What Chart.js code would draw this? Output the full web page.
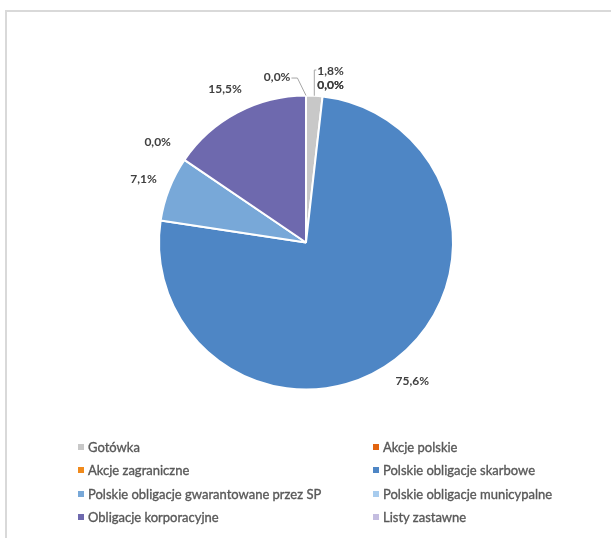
<!DOCTYPE html>
<html><head><meta charset="utf-8">
<script src="https://cdn.jsdelivr.net/npm/chart.js@4/dist/chart.umd.min.js"></script>
<style>
html,body{margin:0;padding:0;background:#fff;width:611px;height:538px;overflow:hidden;}
#frame{position:absolute;left:5px;top:10px;width:700px;height:600px;border-left:2px solid #d9d9d9;border-top:2px solid #d9d9d9;}
#wrap{position:absolute;left:0;top:0;width:611px;height:538px;}
#legend{position:absolute;left:78px;top:435px;display:grid;grid-template-columns:295px 230px;grid-auto-rows:23.5px;font-family:Lato,"Open Sans",sans-serif;font-size:13px;color:#595959;-webkit-text-stroke:0.35px #595959;}
.item{display:flex;align-items:center;white-space:nowrap;}
.sw{width:6px;height:6px;margin-right:4px;flex:none;}
</style></head>
<body>
<div id="frame"></div>
<div id="wrap"><canvas id="c" width="611" height="538"></canvas></div>
<div id="legend"></div>
<script>
const categories = ["Gotówka","Akcje polskie","Akcje zagraniczne","Polskie obligacje skarbowe","Polskie obligacje gwarantowane przez SP","Polskie obligacje municypalne","Obligacje korporacyjne","Listy zastawne"];
const shares = [1.8, 0.0, 0.0, 75.6, 7.1, 0.0, 15.5, 0.0];
const colors = ["#c8c8c8","#e2640f","#f08a1c","#4e86c5","#78a8d8","#a8ccee","#6e69ae","#c4bde0"];

function fmt(v){ return v.toFixed(1).replace('.', ',') + '%'; }

const outLabels = {
  id: 'outLabels',
  afterDatasetsDraw(chart){
    const ctx = chart.ctx;
    const meta = chart.getDatasetMeta(0);
    const ds = chart.data.datasets[0];
    ctx.save();
    ctx.font = 'bold 12px Lato, "Open Sans", sans-serif';
    ctx.textAlign = 'center';
    ctx.textBaseline = 'middle';
    const h = 12;
    const placed = [];
    meta.data.forEach((arc, i) => {
      const p = arc.getProps(['x','y','startAngle','endAngle','outerRadius'], true);
      const mid = (p.startAngle + p.endAngle) / 2;
      const ux = Math.cos(mid), uy = Math.sin(mid);
      const right = (mid + Math.PI / 2) < Math.PI - 1e-9;
      const v = ds.data[i];
      const text = fmt(v);
      const w = ctx.measureText(text).width;
      const gap = v < 2.5 ? 18 : 13;
      const ext = Math.abs(ux) * w / 2 + Math.abs(uy) * h / 2;
      const d = p.outerRadius + gap + ext;
      const nx = p.x + ux * d, ny = p.y + uy * d;
      const item = {text, w, nx, ny, cx: nx, cy: ny, right, leader: false, moved: false,
                    ax: p.x + ux * p.outerRadius, ay: p.y + uy * p.outerRadius};
      const dup = placed.find(q => q.text === text && q.moved && Math.abs(q.nx - nx) < 1 && Math.abs(q.ny - ny) < 1);
      if (dup) {
        item.cx = dup.cx; item.cy = dup.cy; item.moved = true; item.leader = dup.leader; item.dupOf = dup;
      } else {
        let guard = 0, hit;
        while ((hit = placed.find(q => Math.abs(q.cx - item.cx) < (q.w + w) / 2 + 2 && Math.abs(q.cy - item.cy) < h + 1)) && guard++ < 10) {
          item.moved = true; item.leader = true; hit.leader = true;
          if (right) { item.cy = hit.cy + h + 2; item.cx = Math.max(item.cx, hit.cx); }
          else { item.cx = hit.cx - (hit.w + w) / 2 - 12; item.cy = Math.max(item.cy, hit.cy + 6); }
        }
      }
      placed.push(item);
    });
    // right-side leader group: align left edges just past the leftmost anchor
    const grp = placed.filter(it => it.right && it.leader && !it.dupOf);
    if (grp.length) {
      const L = Math.min(...grp.map(it => it.ax)) + 3;
      grp.forEach(it => { it.cx = L + it.w / 2; });
      placed.forEach(it => { if (it.dupOf) { it.cx = it.dupOf.cx; it.cy = it.dupOf.cy; } });
    }
    // leader lines
    ctx.strokeStyle = '#a6a6a6';
    ctx.lineWidth = 1;
    placed.forEach(it => {
      if (!it.leader) return;
      const left = it.cx - it.w / 2, rgt = it.cx + it.w / 2, top = it.cy - h / 2, bot = it.cy + h / 2;
      const nxp = Math.min(Math.max(it.ax, left), rgt), nyp = Math.min(Math.max(it.ay, top), bot);
      if (Math.hypot(it.ax - nxp, it.ay - nyp) < 8) return;
      ctx.beginPath();
      if (it.right) {
        ctx.moveTo(it.ax, it.ay); ctx.lineTo(it.ax, it.cy - 1); ctx.lineTo(left - 1, it.cy - 1);
      } else {
        ctx.moveTo(it.ax, it.ay); ctx.lineTo(rgt + 7, it.cy + 1); ctx.lineTo(rgt + 1, it.cy + 1);
      }
      ctx.stroke();
    });
    ctx.fillStyle = '#404040';
    placed.forEach(it => ctx.fillText(it.text, it.cx, it.cy));
    ctx.restore();
  }
};

new Chart(document.getElementById('c'), {
  type: 'pie',
  data: { labels: categories, datasets: [{ data: shares, backgroundColor: colors, borderColor: '#ffffff', borderWidth: 2 }] },
  options: {
    responsive: false,
    animation: false,
    events: [],
    layout: { padding: { left: 158, right: 157, top: 94.5, bottom: 147.5 } },
    plugins: { legend: { display: false }, tooltip: { enabled: false }, title: { display: false } }
  },
  plugins: [outLabels]
});

const lg = document.getElementById('legend');
categories.forEach((name, i) => {
  const d = document.createElement('div');
  d.className = 'item';
  const s = document.createElement('span');
  s.className = 'sw';
  s.style.background = colors[i];
  const t = document.createElement('span');
  t.textContent = name;
  d.appendChild(s); d.appendChild(t);
  lg.appendChild(d);
});
</script>
</body></html>
